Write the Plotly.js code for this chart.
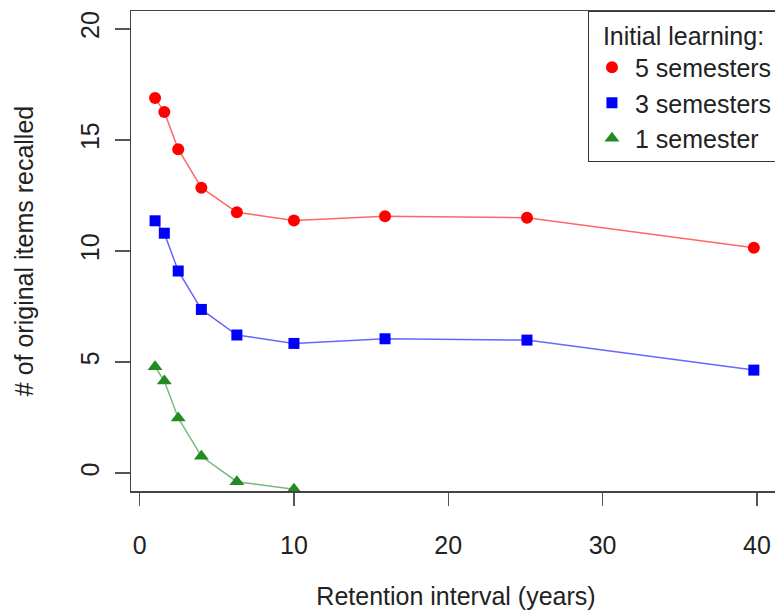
<!DOCTYPE html>
<html>
<head>
<meta charset="utf-8">
<script src="https://cdn.plot.ly/plotly-3.0.1.min.js"></script>
<style>
html, body { margin: 0; padding: 0; overflow: hidden; background: #fff; }
#chart { width: 790px; height: 614px; }
</style>
</head>
<body>
<div id="chart"></div>
<script>
// Retention interval (years)
const years = [1, 1.6, 2.5, 4, 6.3, 10, 15.9, 25.1, 39.8];
const years1 = [1, 1.6, 2.5, 4, 6.3, 10];
// # of original items recalled
const fiveSemesters = [16.88, 16.26, 14.58, 12.85, 11.74, 11.37, 11.56, 11.5, 10.15];
const threeSemesters = [11.36, 10.8, 9.1, 7.37, 6.22, 5.84, 6.05, 5.99, 4.64];
const oneSemester = [4.79, 4.15, 2.49, 0.76, -0.38, -0.72];
const seriesNames = ["5 semesters", "3 semesters", "1 semester"];
const xTicks = [0, 10, 20, 30, 40];
const yTicks = [0, 5, 10, 15, 20];

const FONT = "Liberation Sans, Arial, Helvetica, sans-serif";

const series = [
  { x: years, y: fiveSemesters, name: seriesNames[0], line: "rgba(255,0,0,0.6)", color: "#ff0000", symbol: "circle", size: 12 },
  { x: years, y: threeSemesters, name: seriesNames[1], line: "rgba(0,0,255,0.6)", color: "#0000ff", symbol: "square", size: 11 },
  { x: years1, y: oneSemester, name: seriesNames[2], line: "rgba(34,139,34,0.6)", color: "#228b22", symbol: "triangle-up", size: 13 }
];

const traces = [];
series.forEach(s => {
  traces.push({
    x: s.x, y: s.y, name: s.name, type: "scatter", mode: "lines",
    line: { color: s.line, width: 1.5 }, showlegend: false, hoverinfo: "skip"
  });
});
series.forEach(s => {
  traces.push({
    x: s.x, y: s.y, name: s.name, type: "scatter", mode: "markers",
    marker: { symbol: s.symbol, size: s.size, color: s.color, line: { width: 0 } }
  });
});

const layout = {
  width: 790, height: 614,
  margin: { l: 131, r: 9, t: 11, b: 123 },
  paper_bgcolor: "#fff", plot_bgcolor: "#fff",
  font: { family: FONT, size: 25, color: "#222" },
  showlegend: true,
  legend: {
    x: 0.703, y: 1, xanchor: "left", yanchor: "top",
    bordercolor: "#333", borderwidth: 1, bgcolor: "#fff",
    itemwidth: 36,
    font: { family: FONT, size: 25, color: "#222" },
    title: { text: "\u00a0\u2009Initial learning:", font: { family: FONT, size: 25, color: "#222" } },
    tracegroupgap: 0
  },
  xaxis: {
    range: [-0.56, 41.56], tickvals: xTicks, ticktext: xTicks.map(String),
    ticks: "outside", ticklen: 13, tickwidth: 1.5, tickcolor: "#555",
    showline: true, linecolor: "#444", linewidth: 1.5, mirror: true,
    showgrid: false, zeroline: false, ticklabelstandoff: 18,
    tickfont: { family: FONT, size: 25, color: "#222" },
    title: { text: "Retention interval (years)", standoff: 30, font: { family: FONT, size: 25, color: "#222" } }
  },
  yaxis: {
    range: [-0.8, 20.8], tickvals: yTicks, ticktext: yTicks.map(String),
    ticks: "outside", ticklen: 15, tickwidth: 1.5, tickcolor: "#555", tickangle: -90,
    showline: true, linecolor: "#444", linewidth: 1.5, mirror: true,
    showgrid: false, zeroline: false, ticklabelstandoff: 6,
    tickfont: { family: FONT, size: 25, color: "#222" },
    title: { text: "# of original items recalled", standoff: 35, font: { family: FONT, size: 25, color: "#222" } }
  }
};

Plotly.newPlot("chart", traces, layout, { displayModeBar: false, staticPlot: true });
</script>
</body>
</html>
